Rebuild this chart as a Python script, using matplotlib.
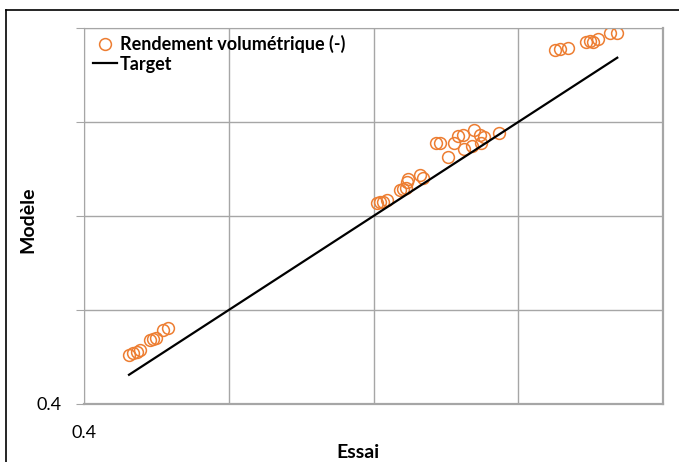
import matplotlib.pyplot as plt
from matplotlib.lines import Line2D

essai = [0.4311, 0.4339, 0.4366, 0.4387, 0.4456, 0.4477, 0.4497, 0.4546, 0.4580,
         0.6024, 0.6045, 0.6068, 0.6091, 0.6183, 0.6206, 0.6225, 0.6229, 0.6240,
         0.6321, 0.6340,
         0.6432, 0.6459, 0.6513, 0.6558, 0.6586, 0.6620, 0.6696, 0.6627, 0.6678,
         0.6736, 0.6765, 0.6743, 0.6867,
         0.7254, 0.7288, 0.7342, 0.7468, 0.7495, 0.7514, 0.7549, 0.7634, 0.7684]
modele = [0.4521, 0.4543, 0.4553, 0.4574, 0.4681, 0.4691, 0.4702, 0.4787, 0.4809,
          0.6141, 0.6146, 0.6152, 0.6170, 0.6277, 0.6287, 0.6301, 0.6365, 0.6394,
          0.6436, 0.6401,
          0.6773, 0.6780, 0.6624, 0.6780, 0.6851, 0.6862, 0.6915, 0.6710, 0.6745,
          0.6862, 0.6844, 0.6780, 0.6886,
          0.7766, 0.7773, 0.7790, 0.7854, 0.7865, 0.7854, 0.7883, 0.7944, 0.7950]
target_x = [min(essai), max(essai)]
grid_ticks = [0.4, 0.5, 0.6, 0.7, 0.8]
tick_labels = ["0.4", "", "", "", ""]

plt.rcParams['font.family'] = ['Lato', 'DejaVu Sans']

fig = plt.figure(figsize=(6.79, 4.62), dpi=100)
ax = fig.add_axes([84 / 679, 58 / 462, 579 / 679, 376 / 462])

# outer chart frame (left and top edges visible)
fig.add_artist(Line2D([6 / 679, 6 / 679], [0, 452 / 462], color="black", lw=1.2))
fig.add_artist(Line2D([6 / 679, 1], [452 / 462, 452 / 462], color="black", lw=1.2))

ax.plot(essai, modele, "o", mfc="none", mec="#ED7D31", mew=1.1, ms=8.5,
        label="Rendement volumétrique (-)")
ax.plot(target_x, target_x, color="black", lw=1.6, label="Target")

ax.set_xlim(0.4, 0.8)
ax.set_ylim(0.4, 0.8)
ax.set_xticks(grid_ticks)
ax.set_yticks(grid_ticks)
ax.set_xticklabels(tick_labels, fontsize=13)
ax.set_yticklabels(tick_labels, fontsize=13)
ax.tick_params(axis="x", length=0, pad=15)
ax.tick_params(axis="y", length=6, color="#A6A6A6", pad=10)
ax.grid(True, color="#A6A6A6", lw=1)
for s in ax.spines.values():
    s.set_color("#A6A6A6")
ax.spines["right"].set_linewidth(1.6)
ax.spines["bottom"].set_linewidth(1.6)

ax.set_xlabel("Essai", fontsize=14, fontweight="bold", ha="center", va="center")
ax.xaxis.set_label_coords(274 / 579, -48 / 376)
ax.set_ylabel("Modèle", fontsize=14, fontweight="bold", ha="center", va="center")
ax.yaxis.set_label_coords(-56 / 579, 184 / 376)

ax.legend(loc="upper left", frameon=False, prop={"weight": "bold", "size": 13},
          handlelength=1.33, handletextpad=0.15, labelspacing=0.15,
          borderpad=0, borderaxespad=0, bbox_to_anchor=(9 / 579, 369 / 376))

fig.savefig("out.png", dpi=100)
